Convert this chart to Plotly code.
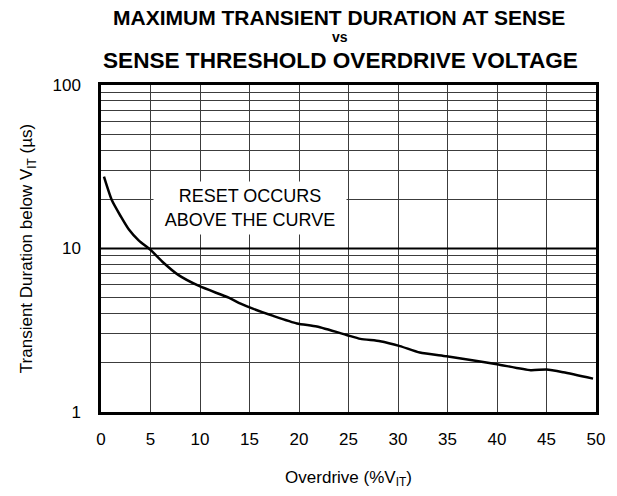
import plotly.graph_objects as go

# Data
overdrive = [0.3, 1.1, 2.0, 2.8, 3.8, 5.0, 6.2, 7.8, 9.9, 12.9, 14.1, 15.4, 17.4, 19.8,
             21.8, 24.8, 26.2, 28.2, 30.2, 32.2, 34.9, 37.5, 40.0, 43.4, 45.0, 46.7, 49.7]
duration = [27.5, 19.7, 15.7, 13.1, 11.2, 9.8, 8.3, 6.9, 5.9, 5.0, 4.6, 4.27, 3.87, 3.48,
            3.33, 2.96, 2.80, 2.71, 2.53, 2.31, 2.19, 2.07, 1.96, 1.80, 1.82, 1.75, 1.60]
x_ticks = [0, 5, 10, 15, 20, 25, 30, 35, 40, 45, 50]
y_ticks = [1, 10, 100]
y_tick_labels = ["1", "10", "100"]
y_minor = [m * d for d in (1, 10) for m in range(2, 10)]

FONT = "Liberation Sans, Arial, sans-serif"
GRID = "#3c3c3c"
W, H = 617, 496
PLOT_LEFT, PLOT_RIGHT = 101, 596
PLOT_TOP, PLOT_BOT = 85, 421

fig = go.Figure()
fig.add_trace(go.Scatter(x=overdrive, y=duration, mode="lines",
                         line=dict(color="black", width=2.5, shape="spline", smoothing=0.6),
                         hoverinfo="skip", showlegend=False))

# Thicker decade line at 10
fig.add_trace(go.Scatter(x=[x_ticks[0], x_ticks[-1]], y=[y_ticks[1], y_ticks[1]], mode="lines",
                         line=dict(color="black", width=2), hoverinfo="skip", showlegend=False))

fig.update_layout(
    width=W, height=H,
    margin=dict(l=PLOT_LEFT, r=W - PLOT_RIGHT, t=PLOT_TOP, b=H - PLOT_BOT),
    paper_bgcolor="white", plot_bgcolor="white",
    font=dict(family=FONT, color="black", size=17),
    showlegend=False,
)

fig.update_xaxes(
    range=[0, 50], tickvals=x_ticks, ticktext=[str(v) for v in x_ticks],
    showgrid=True, gridcolor=GRID, gridwidth=1,
    showline=True, linecolor="black", linewidth=2.5, mirror=True,
    ticks="", ticklabelstandoff=10, zeroline=False,
    tickfont=dict(size=17),
    title=dict(text="Overdrive (%V<sub>IT</sub>)", font=dict(size=17), standoff=23),
)
fig.update_yaxes(
    type="log", range=[0, 2], tickvals=y_ticks, ticktext=y_tick_labels,
    showgrid=True, gridcolor=GRID, gridwidth=1,
    minor=dict(tickvals=y_minor, showgrid=True, gridcolor=GRID, gridwidth=1, ticks=""),
    showline=True, linecolor="black", linewidth=2.5, mirror=True,
    ticks="", ticklabelstandoff=14, zeroline=False,
    tickfont=dict(size=17),
    title=dict(text="Transient Duration below V<sub>IT</sub> (µs)", font=dict(size=17), standoff=16),
)

# Title lines (text, font size, centre x px, centre y px)
title_lines = [("<b>MAXIMUM TRANSIENT DURATION AT SENSE</b>", 21, 339, 16),
               ("<b>vs</b>", 14, 340, 36),
               ("<b>SENSE THRESHOLD OVERDRIVE VOLTAGE</b>", 22.6, 340, 60)]
for txt, sz, xpx, ypx in title_lines:
    fig.add_annotation(x=(xpx - PLOT_LEFT) / (PLOT_RIGHT - PLOT_LEFT), xref="paper",
                       xanchor="center",
                       y=(PLOT_BOT - ypx) / (PLOT_BOT - PLOT_TOP), yref="paper",
                       yanchor="middle", text=txt, showarrow=False,
                       font=dict(size=sz, family=FONT))

# y for log axis annotations is in log10 units
fig.add_annotation(x=15, y=1.25, yref="y", xref="x",
                   text="RESET OCCURS<br>ABOVE THE CURVE", showarrow=False,
                   font=dict(size=18, family=FONT), bgcolor="white",
                   width=184, height=44, borderpad=4, align="center")

fig.write_html("out.html", config={"displayModeBar": False},
               post_script="document.body.style.margin='0';")
